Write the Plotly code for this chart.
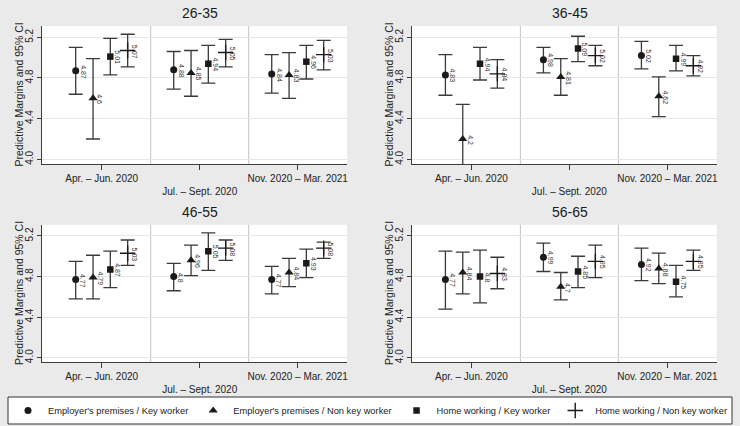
import plotly.graph_objects as go

# ---------------- data ----------------
periods = ["Apr. – Jun. 2020", "Jul. – Sept. 2020", "Nov. 2020 – Mar. 2021"]
age_groups = ["26-35", "36-45", "46-55", "56-65"]
series_names = [
    "Employer's premises / Key worker",
    "Employer's premises / Non key worker",
    "Home working / Key worker",
    "Home working / Non key worker",
]
y_ticks = [4.0, 4.4, 4.8, 5.2]
y_tick_labels = ["4.0", "4.4", "4.8", "5.2"]
y_title = "Predictive Margins and 95% CI"

# rows = series (same order as series_names), columns = periods
est_26_35 = [[4.87, 4.88, 4.84], [4.60, 4.85, 4.83], [5.01, 4.94, 4.96], [5.07, 5.05, 5.03]]
lo_26_35 = [[4.64, 4.69, 4.65], [4.20, 4.62, 4.60], [4.83, 4.75, 4.79], [4.91, 4.91, 4.88]]
hi_26_35 = [[5.10, 5.06, 5.03], [4.99, 5.07, 5.05], [5.19, 5.12, 5.12], [5.23, 5.18, 5.17]]

est_36_45 = [[4.83, 4.98, 5.02], [4.20, 4.81, 4.62], [4.94, 5.09, 4.99], [4.84, 5.02, 4.92]]
lo_36_45 = [[4.63, 4.85, 4.89], [3.86, 4.63, 4.42], [4.78, 4.96, 4.87], [4.70, 4.92, 4.82]]
hi_36_45 = [[5.03, 5.10, 5.16], [4.54, 4.99, 4.81], [5.10, 5.21, 5.12], [4.98, 5.12, 5.02]]

est_46_55 = [[4.77, 4.80, 4.77], [4.79, 4.96, 4.84], [4.87, 5.05, 4.93], [5.03, 5.08, 5.08]]
lo_46_55 = [[4.58, 4.66, 4.63], [4.58, 4.81, 4.70], [4.69, 4.86, 4.79], [4.91, 4.96, 4.98]]
hi_46_55 = [[4.95, 4.93, 4.90], [5.01, 5.11, 4.98], [5.05, 5.23, 5.07], [5.16, 5.16, 5.14]]

est_56_65 = [[4.77, 4.99, 4.92], [4.84, 4.70, 4.88], [4.80, 4.85, 4.75], [4.83, 4.95, 4.95]]
lo_56_65 = [[4.48, 4.85, 4.76], [4.63, 4.57, 4.73], [4.54, 4.69, 4.60], [4.68, 4.79, 4.86]]
hi_56_65 = [[5.05, 5.13, 5.08], [5.04, 4.84, 5.03], [5.06, 5.00, 4.91], [4.99, 5.11, 5.06]]

estimates = [est_26_35, est_36_45, est_46_55, est_56_65]
lowers = [lo_26_35, lo_36_45, lo_46_55, lo_56_65]
uppers = [hi_26_35, hi_36_45, hi_46_55, hi_56_65]

# ---------------- styles / layout ----------------
W, H = 740, 426
symbols = ["circle", "triangle-up", "square", "cross-thin"]
sizes = [7, 8, 6.5, 11]
offsets = [-0.265, -0.088, 0.088, 0.265]
mark_col = "#1a1a1a"
ci_col = "#3a3a3a"
axis_col = "#3c3c3c"
font_family = "Liberation Sans, Arial, sans-serif"

x_doms = [[42 / W, 347 / W], [411.7 / W, 716.7 / W]]
y_doms = [[1 - 163.9 / H, 1 - 26.1 / H], [1 - 362.3 / H, 1 - 224.8 / H]]
title_pos = [(200, 13), (570, 13), (200, 212), (570, 212)]

fig = go.Figure()
layout_axes = {}
annotations = []
shapes = []

for p, age in enumerate(age_groups):
    row, col = divmod(p, 2)
    sfx = "" if p == 0 else str(p + 1)
    xa, ya = "x" + sfx, "y" + sfx
    for s in range(4):
        est = estimates[p][s]
        lo = lowers[p][s]
        hi = uppers[p][s]
        xs = [i + 1 + offsets[s] for i in range(len(periods))]
        fig.add_trace(go.Scatter(
            x=xs, y=est, mode="markers", name=series_names[s],
            legendgroup=series_names[s], showlegend=(p == 0),
            xaxis=xa, yaxis=ya,
            marker=dict(symbol=symbols[s], size=sizes[s], color=mark_col,
                        line=dict(width=1.4 if s == 3 else 0, color=mark_col)),
            error_y=dict(type="data", symmetric=False,
                         array=[h - e for h, e in zip(hi, est)],
                         arrayminus=[e - l for e, l in zip(est, lo)],
                         color=ci_col, thickness=1.3, width=7),
            hoverinfo="skip",
        ))
        for i in range(len(periods)):
            annotations.append(dict(
                x=xs[i], y=est[i], xref=xa, yref=ya, text=f"{est[i]:g}",
                textangle=90, showarrow=False, xshift=7, yshift=-1,
                xanchor="center", yanchor="middle",
                font=dict(size=7, color="#333333", family=font_family)))

    layout_axes["xaxis" + sfx] = dict(
        domain=x_doms[col], anchor=ya, range=[0.391, 3.503],
        tickvals=[1, 2, 3],
        ticktext=[periods[0], "<br>" + periods[1], periods[2]],
        showline=True, linecolor=axis_col, linewidth=1,
        ticks="outside", ticklen=5, tickcolor=axis_col,
        showgrid=False, zeroline=False, automargin=False,
        tickfont=dict(size=10, color="#222222", family=font_family),
    )
    layout_axes["yaxis" + sfx] = dict(
        domain=y_doms[row], anchor=xa, range=[3.955, 5.31],
        tickvals=y_ticks, ticktext=y_tick_labels, tickangle=-90,
        showline=True, linecolor=axis_col, linewidth=1,
        ticks="outside", ticklen=4, tickcolor=axis_col,
        showgrid=True, gridcolor="#e6e6e6", gridwidth=1, zeroline=False,
        automargin=False,
        tickfont=dict(size=10, color="#222222", family=font_family),
    )
    # separators between periods
    for xv in (1.5, 2.5):
        shapes.append(dict(type="line", xref=xa, yref=ya + " domain",
                           x0=xv, x1=xv, y0=0, y1=1,
                           line=dict(color="#c4c4c4", width=1), layer="below"))
    # panel title
    tx, ty = title_pos[p]
    annotations.append(dict(x=tx / W, y=1 - ty / H, xref="paper", yref="paper",
                            text=age, showarrow=False, xanchor="center", yanchor="middle",
                            font=dict(size=14, color="#1a1a1a", family=font_family)))
    # y axis title
    yc = (y_doms[row][0] + y_doms[row][1]) / 2
    annotations.append(dict(x=(18.5 + col * 370) / W, y=yc, xref="paper", yref="paper",
                            text=y_title, textangle=-90, showarrow=False,
                            xanchor="center", yanchor="middle",
                            font=dict(size=10.5, color="#222222", family=font_family)))

# legend box
shapes.append(dict(type="rect", xref="paper", yref="paper",
                   x0=8 / W, x1=732 / W, y0=1 - 424 / H, y1=1 - 397 / H,
                   line=dict(color="#333333", width=1), fillcolor="white", layer="below"))

fig.update_layout(
    width=W, height=H, autosize=False,
    margin=dict(l=0, r=0, t=0, b=0, autoexpand=False),
    paper_bgcolor="#eaeaea", plot_bgcolor="white",
    font=dict(family=font_family, color="#222222"),
    showlegend=True,
    legend=dict(orientation="h", x=0.5, xanchor="center", y=1 - 410.5 / H, yanchor="middle",
                bgcolor="rgba(0,0,0,0)", font=dict(size=9.3, color="#222222", family=font_family),
                itemwidth=30, tracegroupgap=0,
                itemclick=False, itemdoubleclick=False),
    annotations=annotations,
    shapes=shapes,
    **layout_axes,
)

fig.write_html(
    "out.html",
    config={"displayModeBar": False},
    post_script="document.body.style.margin='0px';document.body.style.padding='0px';"
                "document.body.style.overflow='hidden';"
                "document.body.style.background='#eaeaea';",
)
